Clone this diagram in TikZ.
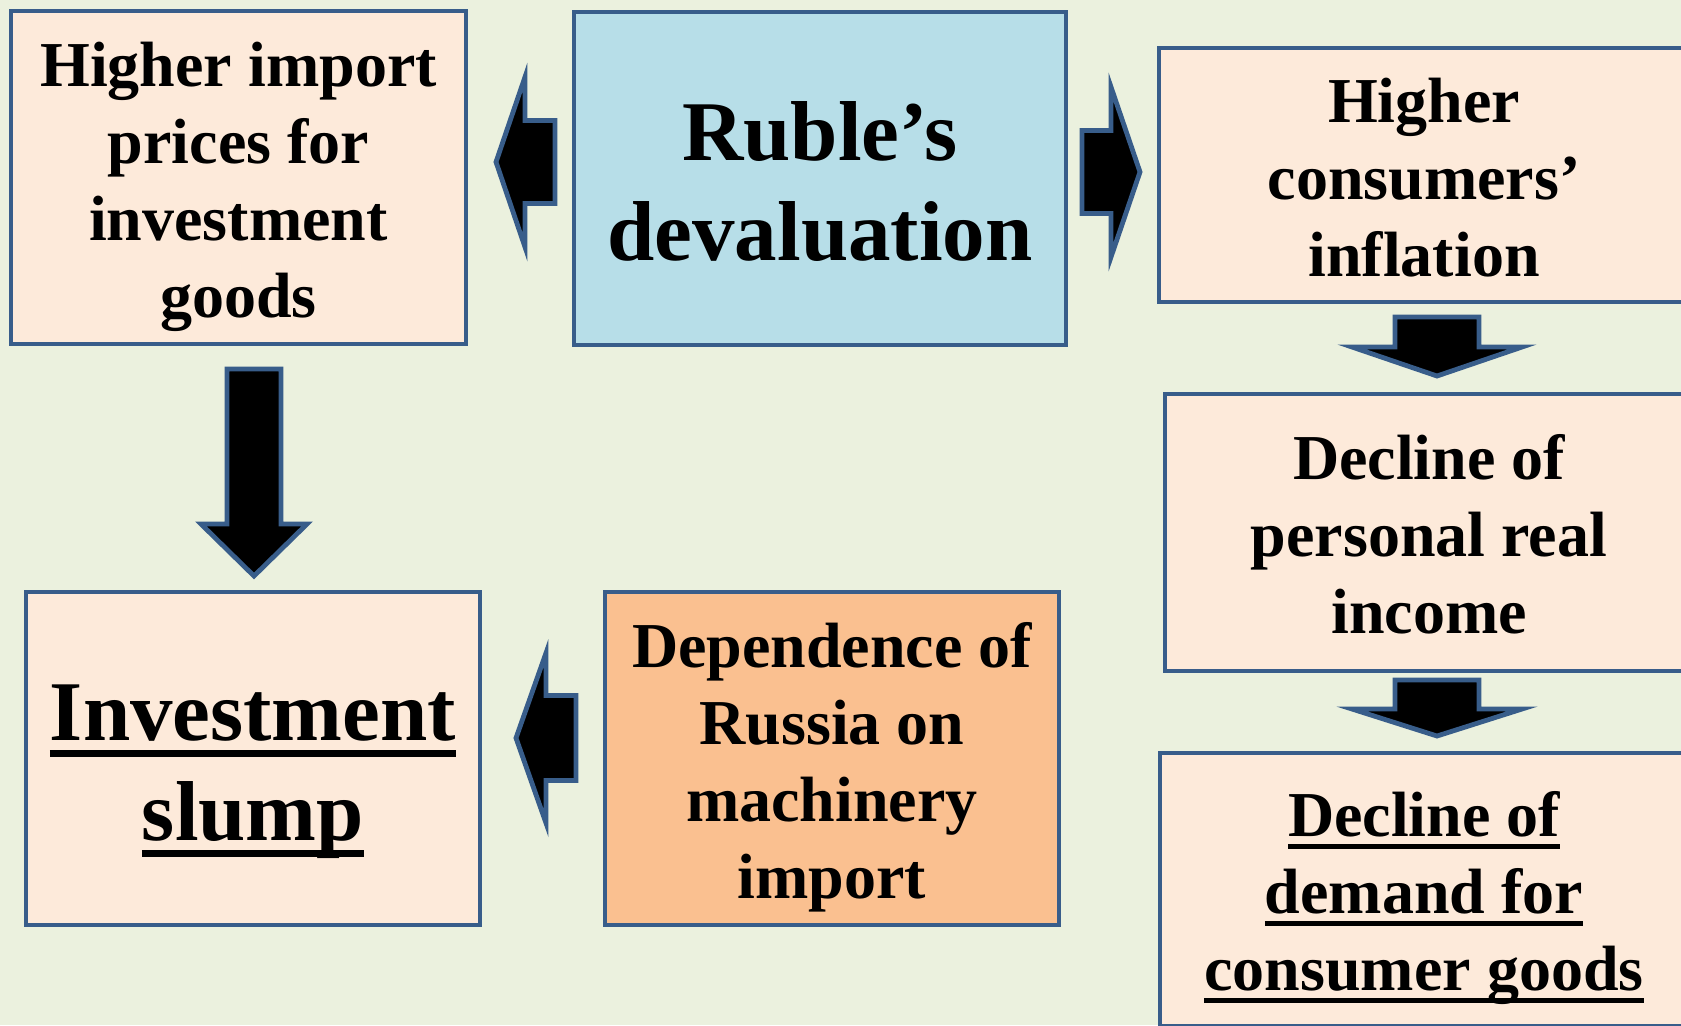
\documentclass[tikz,border=0pt]{standalone}
\usepackage{fontspec}
\setmainfont{Liberation Serif}
\usetikzlibrary{calc}
\definecolor{bgcol}{HTML}{EBF1DE}
\definecolor{peach}{HTML}{FDEADA}
\definecolor{skyblue}{HTML}{B7DEE8}
\definecolor{apricot}{HTML}{FAC090}
\definecolor{edge}{HTML}{385D8A}
% thick underline
\newcommand{\undl}[1]{\setbox0\hbox{#1}\rlap{\rule[-0.2em]{\wd0}{0.085em}}\box0}
% struts for first and last text line
\newcommand{\topst}{\rule{0pt}{1em}}
\newcommand{\botst}{\rule[-0.25em]{0pt}{0.25em}}
% block arrow: tail, tip, stem half width, head half width, head length
\newcommand{\barrow}[5]{%
  \coordinate (hb) at ($(#2)!#5!(#1)$);
  \draw[blockarrow] ($(#1)!#3!90:(#2)$) -- ($(hb)!#3!90:(#2)$) -- ($(hb)!#4!90:(#2)$) -- (#2)
    -- ($(hb)!#4!-90:(#2)$) -- ($(hb)!#3!-90:(#2)$) -- ($(#1)!#3!-90:(#2)$) -- cycle;}
\tikzset{
  box/.style={draw=edge, line width=2.4pt, fill=peach, inner sep=0pt, outer sep=0pt, align=center,
    font=\bfseries\fontsize{32}{38.5}\selectfont},
  bigbox/.style={box, font=\bfseries\fontsize{42.5}{50}\selectfont},
  blockarrow/.style={draw=edge, fill=black, line width=2.4pt, line join=miter}
}
\begin{document}
\begin{tikzpicture}[x=0.5pt, y=-0.5pt]
  \useasboundingbox (0,0) rectangle (1681,1025);
  \clip (0,0) rectangle (1681,1025);
  \fill[bgcol] (0,0) rectangle (1681,1025);
  \node[box, minimum width=227.5pt, minimum height=166.5pt] (imp) at (238.5,177.5) {\topst Higher import\\prices for\\investment\\goods\botst};
  \node[bigbox, fill=skyblue, minimum width=246pt, minimum height=166.5pt] (rub) at (820,178.5) {\topst Ruble’s\\devaluation\botst};
  \node[box, minimum width=265pt, minimum height=127pt] (inf) at (1424,175) {\topst Higher\\consumers’\\inflation\botst};
  \node[box, minimum width=264pt, minimum height=138.5pt] (inc) at (1429,532.5) {\topst Decline of\\personal real\\income\botst};
  \node[box, minimum width=264pt, minimum height=136.5pt] (dem) at (1424,889.5) {\topst\undl{Decline of}\\\undl{demand for}\\\undl{consumer goods}\botst};
  \node[bigbox, minimum width=227pt, minimum height=166.5pt] (slump) at (253,758.5) {\topst\undl{Investment}\\\undl{slump}\botst};
  \node[box, fill=apricot, minimum width=227pt, minimum height=166.5pt] (dep) at (832,758.5) {\topst Dependence of\\Russia on\\machinery\\import\botst};
  % arrow ends
  \coordinate (a1s) at ([xshift=-9.5pt,yshift=8.25pt]rub.west);
  \coordinate (a1e) at ([xshift=15pt,yshift=7.75pt]imp.east);
  \coordinate (a2s) at ([xshift=8pt,yshift=3.25pt]rub.east);
  \coordinate (a2e) at ([xshift=-9.5pt,yshift=1.5pt]inf.west);
  \coordinate (a3s) at ([xshift=6.5pt,yshift=-7.5pt]inf.south);
  \coordinate (a3e) at ([xshift=4pt,yshift=9pt]inc.north);
  \coordinate (a4s) at ([xshift=4pt,yshift=-4.5pt]inc.south);
  \coordinate (a4e) at ([xshift=6.5pt,yshift=8.5pt]dem.north);
  \coordinate (a5s) at ([xshift=7.75pt,yshift=-12.5pt]imp.south);
  \coordinate (a5e) at ([xshift=0.5pt,yshift=8pt]slump.north);
  \coordinate (a6s) at ([xshift=-14.5pt,yshift=10.25pt]dep.west);
  \coordinate (a6e) at ([xshift=18pt,yshift=10.25pt]slump.east);
  \barrow{a1s}{a1e}{20.75pt}{42.5pt}{14.5pt}
  \barrow{a2s}{a2e}{20.75pt}{42.5pt}{14.5pt}
  \barrow{a3s}{a3e}{21pt}{42.5pt}{14.5pt}
  \barrow{a4s}{a4e}{21pt}{42.5pt}{13.5pt}
  \barrow{a5s}{a5e}{13.5pt}{26.5pt}{26pt}
  \barrow{a6s}{a6e}{21.25pt}{42.5pt}{15pt}
\end{tikzpicture}
\end{document}
